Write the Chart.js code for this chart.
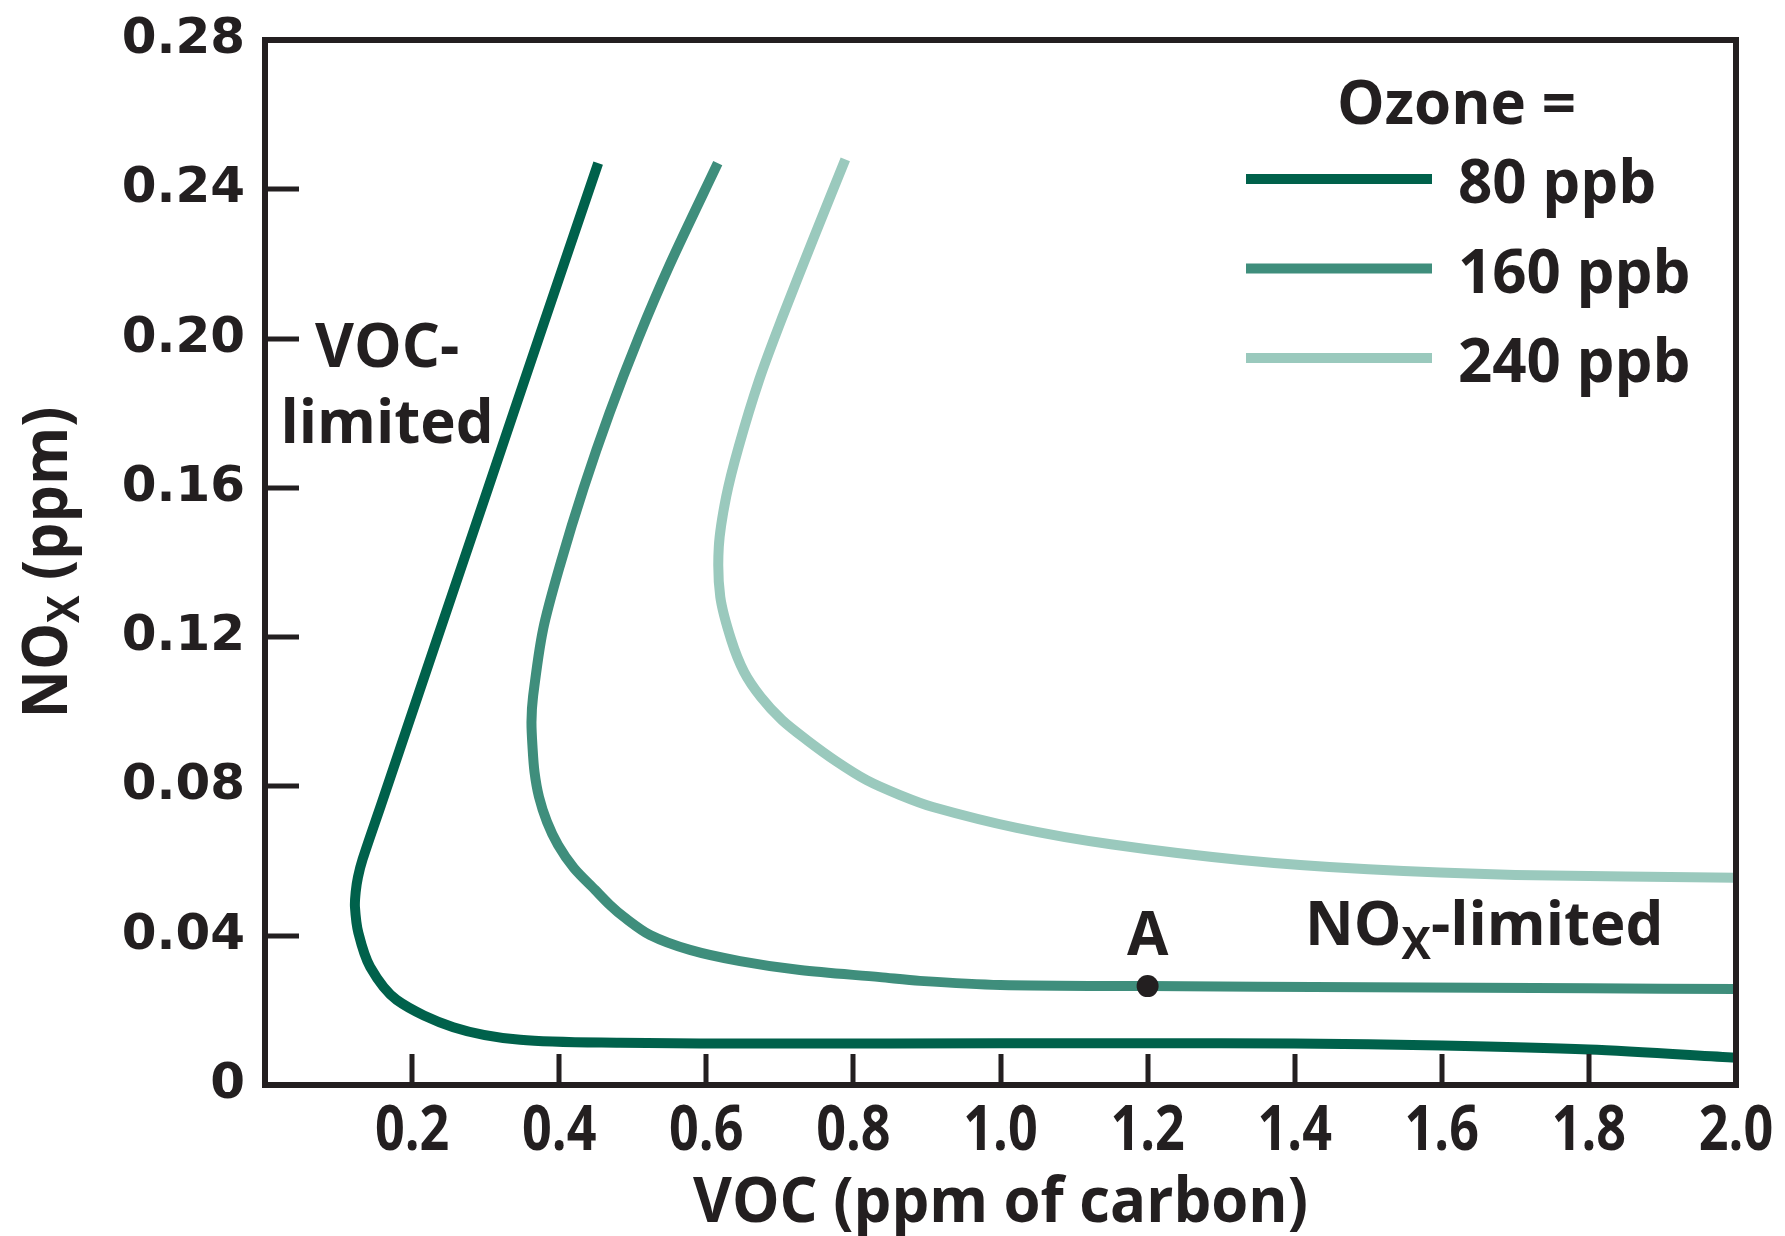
<!DOCTYPE html>
<html lang="en">
<head>
<meta charset="UTF-8">
<title>Ozone isopleths</title>
<script src="https://cdn.jsdelivr.net/npm/chart.js"></script>
<style>
  html, body { margin: 0; padding: 0; background: #fff; overflow: hidden; }
  canvas { display: block; }
</style>
</head>
<body>
<canvas id="chart" width="1785" height="1236"></canvas>
<script>
// ozone isopleths, values (VOC in ppm C, NOx in ppm)
const seriesNames = ['80 ppb', '160 ppb', '240 ppb'];
const seriesColors = ['#00614b', '#3f8e7c', '#9ac9bd'];

const voc80 = [0.453, 0.372, 0.3035, 0.2348, 0.1834, 0.1577, 0.1329, 0.1264, 0.1233, 0.1223, 0.127, 0.143, 0.179, 0.256, 0.347, 0.483, 0.70, 1.0, 1.2, 1.4, 1.6, 1.8, 2.0];
const nox80 = [0.247, 0.20, 0.16, 0.12, 0.09, 0.075, 0.0606, 0.0557, 0.0517, 0.0477, 0.0407, 0.0316, 0.0228, 0.0155, 0.0121, 0.0113, 0.0111, 0.0112, 0.0112, 0.0111, 0.0106, 0.0095, 0.0073];

const voc160 = [0.6156, 0.5508, 0.5074, 0.4683, 0.4333, 0.4022, 0.378, 0.3644, 0.3623, 0.3637, 0.3664, 0.3725, 0.3834, 0.3984, 0.4201, 0.4487, 0.4691, 0.4881, 0.5235, 0.5778, 0.6458, 0.7274, 0.8362, 0.8905, 1.0, 1.2, 1.5, 1.8, 2.0];
const nox160 = [0.247, 0.22, 0.20, 0.18, 0.16, 0.14, 0.122, 0.104, 0.0973, 0.0906, 0.0839, 0.0772, 0.0705, 0.0643, 0.0581, 0.0523, 0.0482, 0.045, 0.0402, 0.0362, 0.0332, 0.0308, 0.0289, 0.0279, 0.0268, 0.0265, 0.0262, 0.0259, 0.0257];

const voc240 = [0.789, 0.746, 0.702, 0.672, 0.644, 0.627, 0.617, 0.619, 0.634, 0.6513, 0.674, 0.7029, 0.737, 0.7763, 0.818, 0.8634, 0.908, 1.022, 1.15, 1.327, 1.50, 1.70, 2.0];
const nox240 = [0.248, 0.227, 0.205, 0.189, 0.171, 0.1576, 0.1442, 0.1308, 0.1192, 0.1107, 0.104, 0.0978, 0.0924, 0.0868, 0.0817, 0.0777, 0.0745, 0.0689, 0.0645, 0.0603, 0.0578, 0.0563, 0.0555];

// point A on the 160 ppb curve
const vocA = [1.2];
const noxA = [0.0265];

const xTicks = [0, 0.2, 0.4, 0.6, 0.8, 1.0, 1.2, 1.4, 1.6, 1.8, 2.0];
const xTickLabels = ['', '0.2', '0.4', '0.6', '0.8', '1.0', '1.2', '1.4', '1.6', '1.8', '2.0'];
const yTicks = [0, 0.04, 0.08, 0.12, 0.16, 0.20, 0.24, 0.28];
const yTickLabels = ['0', '0.04', '0.08', '0.12', '0.16', '0.20', '0.24', '0.28'];

const INK = '#231f20';
const SANS = '"Open Sans", "Noto Sans", sans-serif';

function toPoints(xs, ys) {
  return xs.map((v, i) => ({ x: v, y: ys[i] }));
}

const curves = [[voc80, nox80], [voc160, nox160], [voc240, nox240]].map(([xs, ys], i) => ({
  label: seriesNames[i],
  data: toPoints(xs, ys),
  showLine: true,
  borderColor: seriesColors[i],
  borderWidth: 10,
  borderCapStyle: 'butt',
  tension: 0.3,
  pointRadius: 0,
  order: 2
}));

// a run of text pieces, used for the subscript X
function drawRuns(ctx, runs, x, y, align) {
  let total = 0;
  runs.forEach(r => { ctx.font = r.font; r.w = ctx.measureText(r.text).width; total += r.w; });
  let cx = align === 'center' ? x - total / 2 : x;
  ctx.textAlign = 'left';
  ctx.textBaseline = 'alphabetic';
  runs.forEach(r => {
    ctx.font = r.font;
    ctx.fillText(r.text, cx, y + (r.dy || 0));
    cx += r.w;
  });
}

// condensed-looking text: squeeze horizontally
function squeezed(ctx, text, x, y, sx) {
  ctx.save();
  ctx.translate(x, y);
  ctx.scale(sx, 1);
  ctx.fillText(text, 0, 0);
  ctx.restore();
}

const frame = {
  id: 'frame',
  afterDatasetsDraw(chart) {
    const { ctx, chartArea: a, scales: { x, y } } = chart;
    ctx.save();
    ctx.strokeStyle = INK;
    ctx.fillStyle = INK;

    // inward tick marks
    ctx.lineWidth = 5;
    ctx.beginPath();
    yTicks.forEach(v => {
      if (v <= y.min || v >= y.max) return;
      const py = Math.round(y.getPixelForValue(v));
      ctx.moveTo(a.left, py);
      ctx.lineTo(a.left + 34, py);
    });
    xTicks.forEach(v => {
      if (v <= x.min || v >= x.max) return;
      const px = Math.round(x.getPixelForValue(v));
      ctx.moveTo(px, a.bottom);
      ctx.lineTo(px, a.bottom - 31);
    });
    ctx.stroke();

    // box
    ctx.lineWidth = 6;
    ctx.strokeRect(a.left, a.top, a.right - a.left, a.bottom - a.top);

    // y tick labels
    ctx.textAlign = 'right';
    ctx.textBaseline = 'middle';
    ctx.font = 'bold 50px "DejaVu Sans", sans-serif';
    yTicks.forEach((v, i) => {
      ctx.fillText(yTickLabels[i], a.left - 20, y.getPixelForValue(v));
    });

    // x tick labels (condensed)
    ctx.textAlign = 'center';
    ctx.textBaseline = 'alphabetic';
    ctx.font = 'bold 62px ' + SANS;
    xTicks.forEach((v, i) => {
      if (!xTickLabels[i]) return;
      squeezed(ctx, xTickLabels[i], x.getPixelForValue(v), a.bottom + 65, 0.84);
    });

    // region labels
    ctx.font = 'bold 60px ' + SANS;
    ctx.fillText('VOC-', x.getPixelForValue(0.166), y.getPixelForValue(0.1924));
    ctx.fillText('limited', x.getPixelForValue(0.166), y.getPixelForValue(0.172));
    ctx.fillText('A', x.getPixelForValue(1.2), y.getPixelForValue(0.0348));
    drawRuns(ctx, [
      { text: 'NO', font: 'bold 60px ' + SANS },
      { text: 'X', font: 'bold 44px ' + SANS, dy: 14 },
      { text: '-limited', font: 'bold 60px ' + SANS }
    ], x.getPixelForValue(1.414), y.getPixelForValue(0.0375), 'left');

    // legend, top right inside the box
    ctx.font = 'bold 60px ' + SANS;
    ctx.textAlign = 'left';
    ctx.fillText('Ozone =', a.right - 399, a.top + 84);
    ctx.lineWidth = 10;
    curves.forEach((ds, i) => {
      const ly = a.top + 139 + i * 89.5;
      ctx.strokeStyle = ds.borderColor;
      ctx.beginPath();
      ctx.moveTo(a.right - 490, ly);
      ctx.lineTo(a.right - 304, ly);
      ctx.stroke();
      ctx.fillText(ds.label, a.right - 278, ly + 24);
    });

    // axis titles
    ctx.textAlign = 'center';
    ctx.font = 'bold 63px ' + SANS;
    squeezed(ctx, 'VOC (ppm of carbon)', (a.left + a.right) / 2, 1222, 0.95);

    ctx.translate(67, (a.top + a.bottom) / 2);
    ctx.rotate(-Math.PI / 2);
    ctx.scale(0.94, 1);
    drawRuns(ctx, [
      { text: 'NO', font: 'bold 63px ' + SANS },
      { text: 'X', font: 'bold 44px ' + SANS, dy: 12 },
      { text: ' (ppm)', font: 'bold 63px ' + SANS }
    ], 0, 0, 'center');
    ctx.restore();
  }
};

new Chart(document.getElementById('chart'), {
  type: 'scatter',
  data: {
    datasets: [
      ...curves,
      {
        label: 'A',
        data: toPoints(vocA, noxA),
        pointRadius: 11,
        pointBackgroundColor: INK,
        pointBorderWidth: 0,
        order: 1
      }
    ]
  },
  options: {
    responsive: false,
    animation: false,
    layout: { padding: { left: 0, right: 49, top: 40, bottom: 0 } },
    plugins: {
      legend: { display: false },
      tooltip: { enabled: false }
    },
    scales: {
      x: {
        type: 'linear',
        min: 0,
        max: 2.0,
        afterFit: s => { s.height = 151; },
        afterBuildTicks: s => { s.ticks = xTicks.map(v => ({ value: v })); },
        grid: { display: false, drawTicks: false },
        border: { display: false },
        ticks: { display: false }
      },
      y: {
        type: 'linear',
        min: 0,
        max: 0.28,
        afterFit: s => { s.width = 265; },
        afterBuildTicks: s => { s.ticks = yTicks.map(v => ({ value: v })); },
        grid: { display: false, drawTicks: false },
        border: { display: false },
        ticks: { display: false }
      }
    }
  },
  plugins: [frame]
});
</script>
</body>
</html>
